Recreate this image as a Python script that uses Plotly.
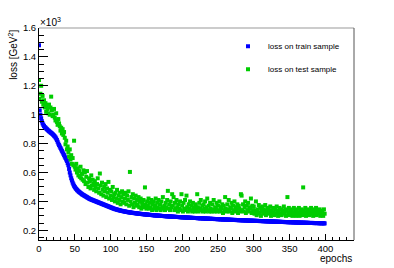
import plotly.graph_objects as go

# values in units of 10^3 GeV^2
train_loss = [
1.480, 1.030, 1.000, 0.975, 0.955, 0.940, 0.930, 0.922, 0.915, 0.910, 0.905, 0.900, 0.895, 0.890, 0.886, 0.882, 0.878, 0.874, 0.870, 0.866,
0.860, 0.855, 0.850, 0.843, 0.835, 0.825, 0.813, 0.800, 0.790, 0.780, 0.770, 0.760, 0.750, 0.740, 0.730, 0.720, 0.710, 0.700, 0.690, 0.680,
0.665, 0.650, 0.625, 0.600, 0.580, 0.560, 0.545, 0.530, 0.518, 0.508, 0.500, 0.492, 0.486, 0.480, 0.475, 0.470, 0.466, 0.462, 0.458, 0.454,
0.450, 0.447, 0.444, 0.441, 0.438, 0.435, 0.432, 0.429, 0.426, 0.423, 0.420, 0.417, 0.415, 0.413, 0.411, 0.409, 0.407, 0.405, 0.403, 0.401,
0.399, 0.397, 0.395, 0.393, 0.391, 0.389, 0.387, 0.385, 0.383, 0.381, 0.379, 0.377, 0.375, 0.373, 0.371, 0.369, 0.367, 0.365, 0.363, 0.361,
0.359, 0.357, 0.355, 0.353, 0.351, 0.349, 0.347, 0.346, 0.345, 0.343, 0.342, 0.340, 0.339, 0.338, 0.336, 0.335, 0.334, 0.333, 0.332, 0.331,
0.330, 0.329, 0.328, 0.327, 0.326, 0.325, 0.324, 0.324, 0.323, 0.322, 0.321, 0.321, 0.320, 0.319, 0.319, 0.318, 0.317, 0.317, 0.316, 0.315,
0.315, 0.314, 0.314, 0.313, 0.312, 0.312, 0.311, 0.311, 0.310, 0.310, 0.309, 0.309, 0.308, 0.308, 0.307, 0.307, 0.306, 0.306, 0.305, 0.305,
0.304, 0.304, 0.303, 0.303, 0.303, 0.302, 0.302, 0.301, 0.301, 0.301, 0.300, 0.300, 0.299, 0.299, 0.299, 0.298, 0.298, 0.298, 0.297, 0.297,
0.297, 0.296, 0.296, 0.296, 0.295, 0.295, 0.295, 0.294, 0.294, 0.294, 0.293, 0.293, 0.293, 0.292, 0.292, 0.292, 0.291, 0.291, 0.291, 0.290,
0.290, 0.290, 0.290, 0.289, 0.289, 0.289, 0.288, 0.288, 0.288, 0.288, 0.287, 0.287, 0.287, 0.286, 0.286, 0.286, 0.286, 0.285, 0.285, 0.285,
0.285, 0.284, 0.284, 0.284, 0.284, 0.283, 0.283, 0.283, 0.283, 0.282, 0.282, 0.282, 0.282, 0.281, 0.281, 0.281, 0.281, 0.280, 0.280, 0.280,
0.280, 0.279, 0.279, 0.279, 0.279, 0.278, 0.278, 0.278, 0.278, 0.277, 0.277, 0.277, 0.277, 0.276, 0.276, 0.276, 0.276, 0.275, 0.275, 0.275,
0.275, 0.275, 0.274, 0.274, 0.274, 0.274, 0.273, 0.273, 0.273, 0.273, 0.272, 0.272, 0.272, 0.272, 0.272, 0.271, 0.271, 0.271, 0.271, 0.270,
0.270, 0.270, 0.270, 0.270, 0.269, 0.269, 0.269, 0.269, 0.269, 0.268, 0.268, 0.268, 0.268, 0.267, 0.267, 0.267, 0.267, 0.267, 0.266, 0.266,
0.266, 0.266, 0.266, 0.265, 0.265, 0.265, 0.265, 0.265, 0.264, 0.264, 0.264, 0.264, 0.264, 0.263, 0.263, 0.263, 0.263, 0.263, 0.262, 0.262,
0.262, 0.262, 0.262, 0.261, 0.261, 0.261, 0.261, 0.261, 0.260, 0.260, 0.260, 0.260, 0.260, 0.259, 0.259, 0.259, 0.259, 0.259, 0.258, 0.258,
0.258, 0.258, 0.258, 0.257, 0.257, 0.257, 0.257, 0.257, 0.256, 0.256, 0.256, 0.256, 0.256, 0.256, 0.255, 0.255, 0.255, 0.255, 0.255, 0.254,
0.254, 0.254, 0.254, 0.254, 0.254, 0.253, 0.253, 0.253, 0.253, 0.253, 0.253, 0.252, 0.252, 0.252, 0.252, 0.252, 0.252, 0.251, 0.251, 0.251,
0.251, 0.251, 0.251, 0.251, 0.250, 0.250, 0.250, 0.250, 0.250, 0.250, 0.250, 0.249, 0.249, 0.249, 0.249, 0.249, 0.249, 0.249, 0.248, 0.248,
]

test_loss = [
1.240, 1.110, 1.145, 1.200, 1.090, 1.130, 1.070, 1.100, 1.050, 1.080, 1.020, 1.060, 1.040, 1.010, 1.070, 1.000, 1.050, 1.125, 1.030, 0.990,
1.000, 1.040, 0.980, 0.960, 1.010, 0.950, 0.930, 0.970, 0.940, 0.920, 0.890, 0.910, 0.870, 0.900, 0.860, 0.880, 0.840, 0.795, 0.820, 0.760,
0.780, 0.740, 0.710, 0.760, 0.690, 0.720, 0.660, 0.700, 0.650, 0.820, 0.640, 0.620, 0.660, 0.600, 0.630, 0.580, 0.610, 0.570, 0.640, 0.560,
0.590, 0.550, 0.615, 0.540, 0.600, 0.520, 0.570, 0.610, 0.530, 0.500, 0.560, 0.540, 0.490, 0.580, 0.510, 0.550, 0.524, 0.480, 0.540, 0.500,
0.470, 0.520, 0.560, 0.490, 0.460, 0.593, 0.510, 0.450, 0.530, 0.480, 0.440, 0.500, 0.470, 0.520, 0.430, 0.490, 0.460, 0.535, 0.420, 0.480,
0.440, 0.470, 0.410, 0.500, 0.430, 0.450, 0.400, 0.460, 0.420, 0.480, 0.390, 0.440, 0.410, 0.460, 0.380, 0.430, 0.470, 0.400, 0.450, 0.390,
0.420, 0.460, 0.380, 0.440, 0.410, 0.470, 0.370, 0.604, 0.400, 0.430, 0.380, 0.450, 0.360, 0.420, 0.390, 0.440, 0.370, 0.410, 0.380, 0.430,
0.360, 0.400, 0.420, 0.350, 0.390, 0.370, 0.410, 0.360, 0.497, 0.380, 0.350, 0.400, 0.370, 0.420, 0.350, 0.390, 0.360, 0.410, 0.340, 0.380,
0.400, 0.350, 0.370, 0.420, 0.340, 0.390, 0.360, 0.410, 0.350, 0.380, 0.340, 0.400, 0.360, 0.430, 0.350, 0.370, 0.340, 0.390, 0.360, 0.410,
0.473, 0.350, 0.380, 0.340, 0.400, 0.360, 0.450, 0.370, 0.430, 0.340, 0.390, 0.350, 0.410, 0.360, 0.330, 0.380, 0.350, 0.400, 0.340, 0.450,
0.370, 0.330, 0.390, 0.350, 0.410, 0.340, 0.440, 0.360, 0.330, 0.380, 0.350, 0.400, 0.340, 0.370, 0.330, 0.390, 0.350, 0.360, 0.330, 0.380,
0.340, 0.450, 0.360, 0.330, 0.390, 0.350, 0.410, 0.340, 0.370, 0.330, 0.380, 0.350, 0.400, 0.330, 0.360, 0.420, 0.340, 0.370, 0.330, 0.390,
0.350, 0.330, 0.380, 0.340, 0.410, 0.330, 0.360, 0.350, 0.390, 0.330, 0.370, 0.340, 0.400, 0.330, 0.360, 0.350, 0.380, 0.320, 0.370, 0.340,
0.430, 0.350, 0.330, 0.380, 0.340, 0.410, 0.330, 0.360, 0.350, 0.390, 0.320, 0.370, 0.340, 0.400, 0.330, 0.360, 0.340, 0.380, 0.320, 0.370,
0.350, 0.330, 0.450, 0.440, 0.340, 0.380, 0.330, 0.360, 0.400, 0.320, 0.370, 0.340, 0.390, 0.330, 0.360, 0.350, 0.420, 0.320, 0.370, 0.340,
0.365, 0.315, 0.335, 0.400, 0.305, 0.345, 0.325, 0.375, 0.315, 0.355, 0.300, 0.335, 0.365, 0.315, 0.345, 0.325, 0.375, 0.305, 0.335, 0.355,
0.315, 0.345, 0.325, 0.365, 0.300, 0.335, 0.315, 0.355, 0.325, 0.305, 0.345, 0.315, 0.365, 0.325, 0.300, 0.335, 0.355, 0.315, 0.345, 0.305,
0.335, 0.325, 0.365, 0.315, 0.345, 0.300, 0.335, 0.430, 0.325, 0.355, 0.305, 0.335, 0.315, 0.345, 0.300, 0.325, 0.355, 0.315, 0.335, 0.300,
0.345, 0.325, 0.315, 0.355, 0.300, 0.335, 0.325, 0.345, 0.305, 0.497, 0.335, 0.315, 0.355, 0.300, 0.325, 0.345, 0.315, 0.335, 0.305, 0.325,
0.355, 0.315, 0.335, 0.300, 0.345, 0.325, 0.315, 0.355, 0.305, 0.335, 0.325, 0.315, 0.345, 0.300, 0.335, 0.315, 0.325, 0.300, 0.345, 0.315,
]

epochs = list(range(len(train_loss)))
series_names = ["loss on train sample", "loss on test sample"]
x_title = "epochs"
y_title = "loss [GeV<sup>2</sup>]"
exp_label = "\u00d710<sup>3</sup>"

FONT = "Liberation Sans, Arial, sans-serif"

fig = go.Figure()
fig.add_trace(go.Scatter(x=epochs, y=train_loss, mode="markers", name=series_names[0],
                         legendgroup="a",
                         marker=dict(symbol="square", size=4, color="#0000ff", line=dict(width=0))))
fig.add_trace(go.Scatter(x=epochs, y=test_loss, mode="markers", name=series_names[1],
                         legendgroup="b",
                         marker=dict(symbol="square", size=4, color="#00cc00", line=dict(width=0))))

fig.update_layout(
    width=394, height=268,
    margin=dict(l=39, r=40, t=28, b=28, autoexpand=False),
    paper_bgcolor="white", plot_bgcolor="white",
    font=dict(family=FONT, size=9.5, color="black"),
    showlegend=True,
    legend=dict(x=0.6, y=0.982, xanchor="left", yanchor="top",
                font=dict(size=8, family=FONT), bgcolor="rgba(0,0,0,0)",
                tracegroupgap=4, itemwidth=30),
    xaxis=dict(range=[0, 440], showgrid=False, zeroline=False, showline=True,
               linecolor="black", linewidth=1, ticks="inside", ticklen=6,
               tickcolor="black", tick0=0, dtick=50,
               minor=dict(ticks="inside", ticklen=3, dtick=10, tickcolor="black", showgrid=False),
               tickfont=dict(size=9.5)),
    yaxis=dict(range=[0.133, 1.6], showgrid=False, zeroline=False, showline=True,
               linecolor="black", linewidth=1, ticks="inside", ticklen=9,
               tickcolor="black", tick0=0.2, dtick=0.2,
               minor=dict(ticks="inside", ticklen=4.5, dtick=0.05, tick0=0.2, tickcolor="black", showgrid=False),
               tickfont=dict(size=9.5)),
    shapes=[
        dict(type="line", xref="paper", yref="paper", x0=0, x1=1, y0=1, y1=1,
             line=dict(color="#999999", width=1)),
        dict(type="line", xref="paper", yref="paper", x0=1, x1=1, y0=0, y1=1,
             line=dict(color="#555555", width=1)),
    ],
    annotations=[
        dict(text=y_title, xref="paper", yref="paper", x=-0.083, y=1.0,
             xanchor="center", yanchor="top", textangle=-90, showarrow=False,
             font=dict(size=10, family=FONT)),
        dict(text=x_title, xref="paper", yref="paper", x=1.0, y=-0.085,
             xanchor="right", yanchor="middle", showarrow=False,
             font=dict(size=10, family=FONT)),
        dict(text=exp_label, xref="paper", yref="paper", x=-0.003, y=1.028,
             xanchor="left", yanchor="middle", showarrow=False,
             font=dict(size=10, family=FONT)),
    ],
)

fig.write_html("out.html", config={"displayModeBar": False},
               post_script="document.body.style.margin='0';document.body.style.padding='0';")
